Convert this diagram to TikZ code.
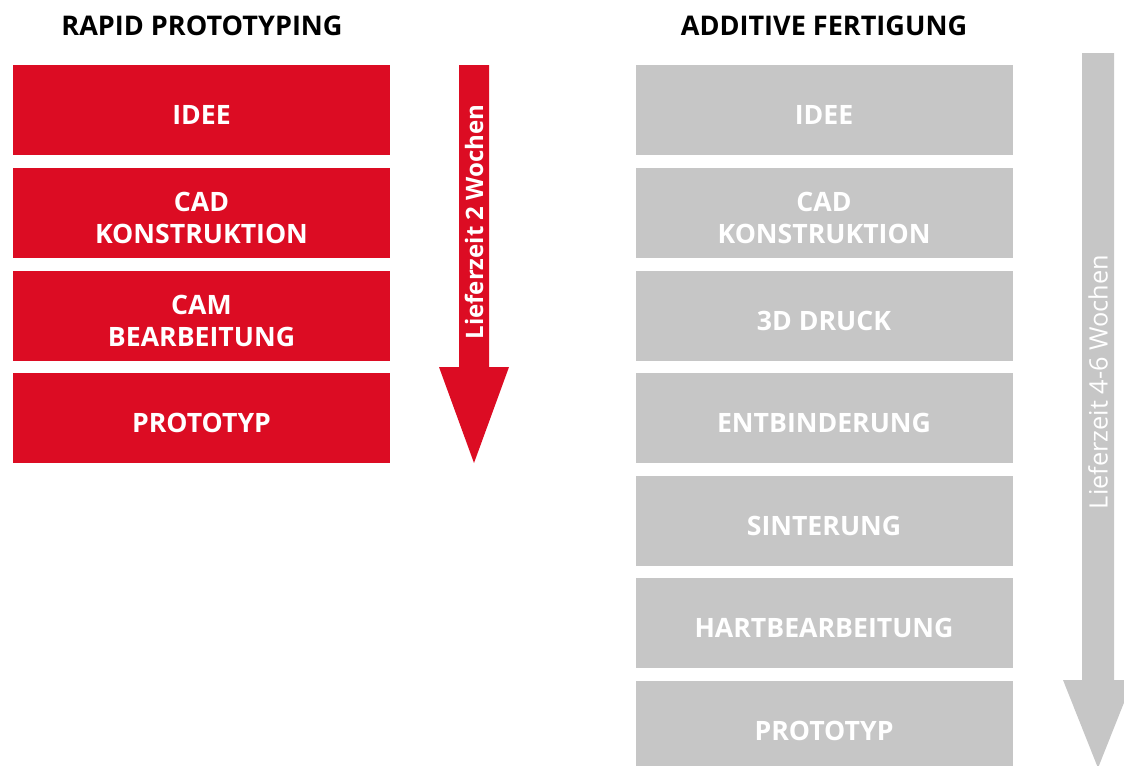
\documentclass[tikz,border=0pt]{standalone}
\usepackage{fontspec}
\setmainfont{Open Sans}
\usetikzlibrary{positioning,calc}
\definecolor{rpred}{HTML}{DC0C23}
\definecolor{afgrey}{HTML}{C6C6C6}
% box with its text set a little below the middle
\newcommand\stepbox[4]{
\node[#2] (#1) at (#3) {};
\node[step text] (#1t) at ($(#1)+(0,5)$) {#4};
}

\begin{document}
\begin{tikzpicture}[x=0.75pt, y=-0.75pt,
  step text/.style={text=white, inner sep=0pt, font=\bfseries\fontsize{20}{24}\selectfont, align=center},
  red box/.style={rectangle, inner sep=0pt, minimum width=282.75pt, minimum height=67.5pt, fill=rpred},
  grey box/.style={red box, fill=afgrey},
  title/.style={anchor=base, font=\bfseries\fontsize{20.3}{24}\selectfont}]
\useasboundingbox (0,0) rectangle (1124,765);
\clip (0,0) rectangle (1124,765);
% titles
\node[title] (rpT) at (202,35) {RAPID PROTOTYPING};
\node[title] (afT) at (824,35) {ADDITIVE FERTIGUNG};
% rapid prototyping
\stepbox{rp1}{red box}{201.5,110}{IDEE}
\stepbox{rp2}{red box}{201.5,212.5}{CAD\\KONSTRUKTION}
\stepbox{rp3}{red box}{201.5,315.5}{CAM\\BEARBEITUNG}
\stepbox{rp4}{red box}{201.5,418}{PROTOTYP}
% additive fertigung
\stepbox{af1}{grey box}{824,110}{IDEE}
\stepbox{af2}{grey box}{824,212.5}{CAD\\KONSTRUKTION}
\stepbox{af3}{grey box}{824,315.5}{3D DRUCK}
\stepbox{af4}{grey box}{824,418}{ENTBINDERUNG}
\stepbox{af5}{grey box}{824,521}{SINTERUNG}
\stepbox{af6}{grey box}{824,623}{HARTBEARBEITUNG}
\stepbox{af7}{grey box}{824,726}{PROTOTYP}
% arrows
\fill[rpred] (459,65) -- (489,65) -- (489,367) -- (509,367) -- (474,463)
  -- (439,367) -- (459,367) -- cycle;
\node[rotate=90, text=white, font=\bfseries\fontsize{18}{20}\selectfont] (rpL) at (474,222) {Lieferzeit 2 Wochen};
\fill[afgrey] (1082,53) -- (1114,53) -- (1114,680) -- (1133,680) -- (1098,768)
  -- (1063,680) -- (1082,680) -- cycle;
\node[rotate=90, text=white, font=\fontsize{19}{21}\selectfont] (afL) at (1098,382) {Lieferzeit 4-6 Wochen};
\end{tikzpicture}
\end{document}
